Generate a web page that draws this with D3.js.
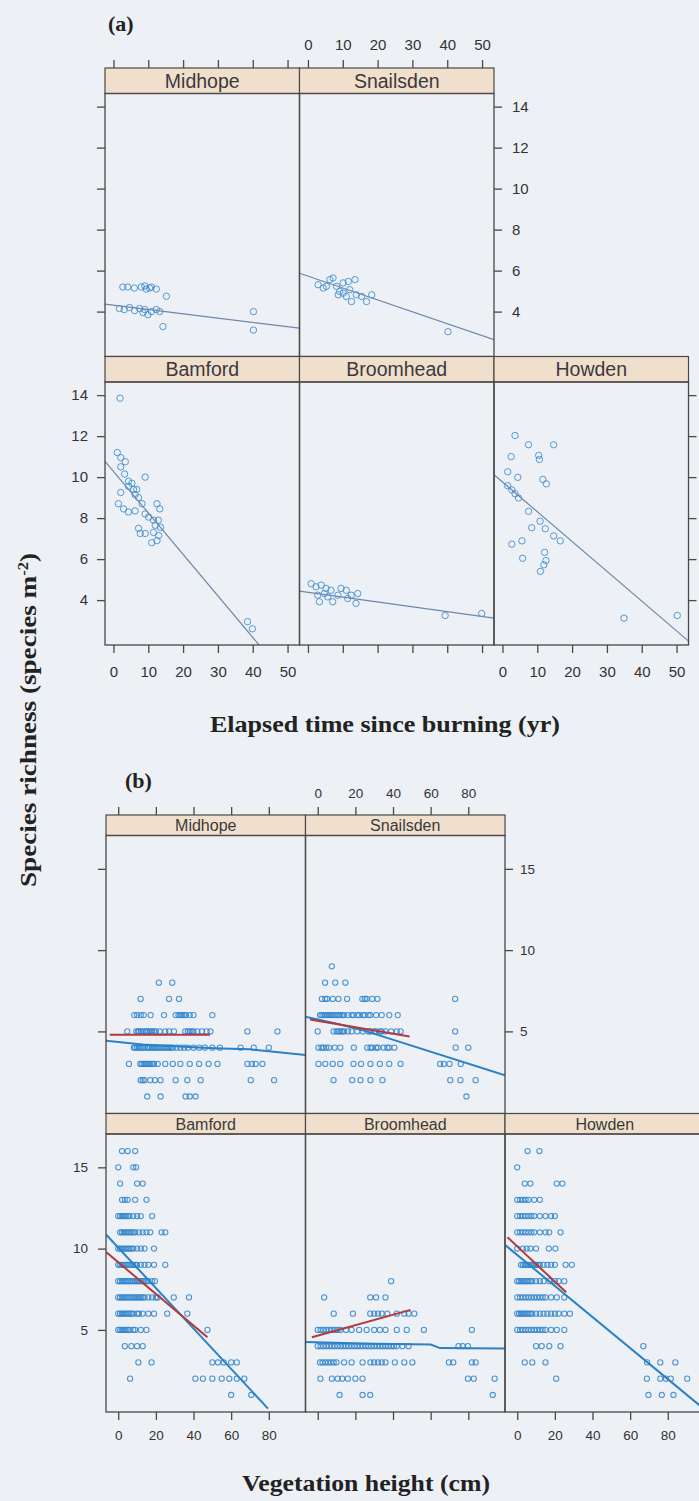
<!DOCTYPE html>
<html><head><meta charset="utf-8">
<script src="https://cdn.jsdelivr.net/npm/d3@7"></script>
<style>
body{margin:0;background:#edf0f5;}
svg{display:block}
</style>
</head><body>
<svg id="chart" width="699" height="1501"></svg>
<script>
// ---------------- DATA ----------------
const sites = ["Midhope","Snailsden","Bamford","Broomhead","Howden"];

// (a) species richness vs elapsed time since burning (yr)
const aXTicks = [0,10,20,30,40,50];
const aYTicks = [4,6,8,10,12,14];
const aXDomain = [-2.43, 53.43];
const aYDomain = [1.81, 14.64];

const aMidhope = [[2.7,5.2],[4.1,5.2],[6.0,5.15],[8.0,5.2],[9.0,5.25],[9.4,5.1],[10.4,5.15],[10.9,5.2],[12.3,5.1],[15.2,4.75],
  [1.7,4.15],[3.1,4.1],[4.6,4.2],[6.1,4.05],[7.5,4.15],[8.5,3.95],[9.0,4.1],[9.9,3.85],[10.9,4.0],[12.3,4.1],[13.3,4.0],[14.2,3.27],[40.2,4.0],[40.2,3.1]];
const aSnailsden = [[2.9,5.31],[4.4,5.15],[5.3,5.23],[6.3,5.56],[7.2,5.64],[8.2,5.23],[8.7,4.82],[9.1,4.98],[10.1,5.4],[10.1,4.9],
  [11.0,4.74],[11.6,5.47],[12.0,5.07],[12.5,4.49],[13.5,5.56],[13.9,4.82],[15.4,4.74],[16.8,4.49],[18.3,4.82],[40.2,3.02]];
const aBamford = [[1.9,13.85],[1.1,11.2],[2.1,10.95],[3.4,10.75],[2.1,10.5],[3.2,10.15],[4.3,9.8],[5.3,9.7],[9.1,10.0],[2.1,9.25],
  [4.3,9.55],[5.8,9.4],[6.2,9.15],[7.2,9.0],[6.7,9.4],[1.4,8.7],[2.9,8.45],[4.3,8.3],[6.2,8.35],[8.2,8.7],[9.1,8.2],[10.1,8.05],
  [12.5,8.7],[13.3,8.45],[11.5,7.9],[12.9,7.9],[12.0,7.65],[13.5,7.55],[7.2,7.5],[7.7,7.25],[9.1,7.25],[11.5,7.3],[13.0,7.15],
  [12.5,6.9],[11.0,6.8],[38.5,2.95],[39.9,2.6]];
const aBroomhead = [[0.9,4.8],[2.3,4.65],[3.8,4.73],[5.2,4.57],[6.6,4.48],[2.8,4.24],[4.7,4.32],[3.3,3.92],[7.1,3.92],[8.6,4.24],
  [9.5,4.57],[11.0,4.48],[12.4,4.24],[14.3,4.32],[13.8,3.84],[11.4,4.08],[5.7,4.16],[39.4,3.25],[49.9,3.35]];
const aHowden = [[3.6,12.03],[7.5,11.58],[14.7,11.58],[2.5,11.0],[10.4,11.06],[10.6,10.86],[1.5,10.26],[4.4,9.99],[11.6,9.89],
  [12.6,9.67],[1.5,9.58],[2.7,9.38],[3.6,9.19],[4.6,8.98],[7.5,8.33],[10.8,7.85],[12.3,7.48],[8.4,7.53],[14.7,7.13],[16.6,6.89],
  [2.7,6.73],[5.6,6.89],[5.8,6.04],[12.1,6.33],[12.5,5.93],[11.9,5.72],[10.9,5.4],[34.9,3.12],[50.2,3.25]];

// fitted lines (a): [x, y] end points
const aFitMidhope   = [[-2.43,4.37],[53.43,3.19]];
const aFitSnailsden = [[-2.43,5.87],[53.43,2.63]];
const aFitBamford   = [[-2.43,10.77],[41.8,1.82]];
const aFitBroomhead = [[-2.43,4.44],[53.43,3.12]];
const aFitHowden    = [[-2.43,10.12],[53.43,2.0]];

// (b) species richness vs vegetation height (cm); rows: [richness, [heights...]]
const bXTicks = [0,20,40,60,80];
const bYTicks = [5,10,15];
const bXDomain = [-6.5, 99.5];
const bYDomain = [-0.05, 17.05];

const bMidhope = [
  [8,[21.6,28.7]],
  [7,[11.9,27,32.3]],
  [6,[8.5,10,12,13.5,17.2,24.3,30.5,32,33,34,35,36,38,40,50]],
  [5,[4.8,9.6,10.5,11,12,13,14.5,15,16,17,18,19,20,22,25,27,29.6,35.6,37,38,39,40,42,44.5,47,49,68.6,84.6]],
  [4,[8.3,9,10,11,12,13,14,15.5,16,17,18,19,20,21,22,23,24,25,26,27,28,29,31,33,35,37,40,43,46,50,54,65,72,80]],
  [3,[5.7,11.7,12.5,13.5,14.5,15,16,17,18,19,21,25,29,33,38,43,48,52.7,68.6,71,73,76.6]],
  [2,[11.9,13,14,17,19.5,22.5,30.5,36.7,43.8,70.4,82.8]],
  [1,[15.4,22.5,35.8,38,41.1]]];
const bSnailsden = [
  [9,[7.5]],
  [8,[3.9,9.3,14.7]],
  [7,[2.2,4,5,8,11,15.6,23.7,25,26,29,31.7,73]],
  [6,[1.2,2,3,4,5,6,7,8,9,10,11,12,13,14,16,18,19,21,22,24,25,27,28,31,34,38,42.5]],
  [5,[0,8.4,10,11,12,13,14,16,18,21,24,27,28,30,31,33,34,36,39,42,44,73]],
  [4,[0.4,2,3,4.5,6,9,12,19.2,26.3,28,29,31,32,35,37,38,40.7,73.3,80]],
  [3,[0.4,4,8,12,19,23,28,33,38,44,65,67,70,76]],
  [2,[8.4,18.3,22.7,28,34.4,70.4,75.8,83.9]],
  [1,[79]]];
const bBamford = [
  [16,[2,5,9]],
  [15,[0,8,9.5]],
  [14,[1,10,13]],
  [13,[2,3.5,5,9,15]],
  [12,[0,1,2,3,4,5,6,8,10,12,18]],
  [11,[1,2,3,4,5,6,7,8,9,11,13,15,17,23,25]],
  [10,[0,1,2,3,4,5,6,7,8,10,12,14,19]],
  [9,[0,1,2,3,4,5,6,7,8,9,10,12,14,16,19,25]],
  [8,[0,1,2,3,4,5,6,7,8,9,10,11,12,13,14,15,16,18,19.5]],
  [7,[0,1,2,3,4,5,6,7,8,9,10,11,12,13,14,16,18,20,21,29.5,37.6]],
  [6,[0,1,2,3,4,5,6,7,8,10,11,13,16,19,26,36.7]],
  [5,[0,1,2,3,4,5,6,8,9,12,15,47.4]],
  [4,[3.5,7,10,13]],
  [3,[10.7,17.7,50,53,56,60,63]],
  [2,[6.3,41,45,50,55,59,63,67]],
  [1,[60,70.7]]];
const bBroomhead = [
  [8,[39]],
  [7,[3.4,27.9,31,36]],
  [6,[8.5,18.7,27.9,30,32,34,37,42,46,48.3,51.3]],
  [5,[0,1.5,3,4.5,6,7.5,9,10.5,12,15,18,22,26,30,33,36,42,47.3,56.4,81.9]],
  [4,[0,1.5,3,4.5,6,7.5,9,10.5,12,13.5,15,16.5,18,19.5,21,22.5,24,25.5,27,28.5,30,31.5,33,34.5,36,37.5,39,40.5,42,45,48.3,74.8,77,79.8]],
  [3,[1.2,2.5,4,5.5,7,8.5,10,14,18,23.8,28,30,32,34,36,41,46,50.3,69.7,72,81.9,83.9]],
  [2,[1.4,7.5,10.6,13,16,20,23.8,79.8,82.9,94]],
  [1,[11.6,23.8,27.9,93]]];
const bHowden = [
  [16,[5.5,11.8]],
  [15,[0]],
  [14,[4,7,21,24]],
  [13,[0,1.5,3,4.5,6,9,12]],
  [12,[0,1.5,3,4.5,6,7.5,9,12,15,18,20]],
  [11,[0,1.5,3,4.5,6,7.5,9,12,15,17,23]],
  [10,[0,3,5,7,10,16.8,20.3]],
  [9,[2,3,4,5,6,7,8,9,10,11,12,14,16,18,20,25.7,29]],
  [8,[0,1,2,3,4,5,6,7,8,10,12,14,17,20,22,25]],
  [7,[0,1.5,3,4.5,6,7.5,9,10.5,12,13.5,15,18,21,25]],
  [6,[0,1,2,3,4,5,6,7,8,10,12,14,16,18,20,22,25,28]],
  [5,[0,1.5,3,4.5,6,7.5,9,10.5,12,13.5,15,18,21,25]],
  [4,[10,13,17,23,67]],
  [3,[4,8,15,69,76,84]],
  [2,[20.7,68.9,76,79,81.6,90.3]],
  [1,[69.7,76.8,83]]];

// fitted lines (b): blue = all quadrats, red = short vegetation subset
const bBlueMidhope   = [[-6.5,4.42],[13,4.2],[45,4.0],[55,3.95],[70,3.9],[99.5,3.55]];
const bRedMidhope    = [[-4.5,4.8],[48.7,4.8]];
const bBlueSnailsden = [[-6.5,5.9],[12,5.42],[26,5.0],[99.5,2.3]];
const bRedSnailsden  = [[-4.1,5.73],[48.8,4.69]];
const bBlueBamford   = [[-6.5,10.87],[79.6,0.16]];
const bRedBamford    = [[-6.3,9.77],[47.4,4.55]];
const bBlueBroomhead = [[-6.5,4.25],[30,4.15],[60,4.1],[65,3.88],[99.5,3.85]];
const bRedBroomhead  = [[-3.1,4.55],[49.3,6.23]];
const bBlueHowden    = [[-6.5,10.23],[99.5,0.11]];
const bRedHowden     = [[-5.2,10.7],[26,7.31]];

// ---------------- DRAWING ----------------
const svg = d3.select("#chart");
const flatRows = rows => rows.flatMap(([yv, xs]) => xs.map(xv => [xv, yv]));
let clipId = 0;

function lattice(cfg) {
  const x = d3.scaleLinear().domain(cfg.xDomain).range([0, cfg.colW]);
  const y = d3.scaleLinear().domain(cfg.yDomain).range([cfg.panelH, 0]);
  const g = svg.append("g");
  const frame = "#4b4845";

  cfg.panels.forEach(p => {
    const px = cfg.left + p.col * cfg.colW;
    const sTop = cfg.top + p.row * (cfg.stripH + cfg.panelH);
    const py = sTop + cfg.stripH;

    g.append("rect").attr("x", px).attr("y", sTop).attr("width", cfg.colW).attr("height", cfg.stripH)
      .attr("fill", "#f0dfcd").attr("stroke", frame).attr("stroke-width", 1.2);
    g.append("text").attr("x", px + cfg.colW / 2).attr("y", sTop + cfg.stripH / 2)
      .attr("dy", "0.36em").attr("text-anchor", "middle")
      .attr("font-family", "'Liberation Sans', Arial, sans-serif").attr("font-size", cfg.stripFont)
      .attr("fill", "#3a3a3a").text(p.name);

    const pg = g.append("g").attr("transform", `translate(${px},${py})`);
    const id = "clip" + (clipId++);
    pg.append("clipPath").attr("id", id).append("rect").attr("width", cfg.colW).attr("height", cfg.panelH);
    const inner = pg.append("g").attr("clip-path", `url(#${id})`);

    inner.selectAll("circle").data(p.pts).join("circle")
      .attr("cx", d => x(d[0])).attr("cy", d => y(d[1])).attr("r", cfg.r)
      .attr("fill", "none").attr("stroke", cfg.ptColor).attr("stroke-width", cfg.ptW).attr("stroke-opacity", 0.85);

    const line = d3.line().x(d => x(d[0])).y(d => y(d[1]));
    p.lines.forEach(l => {
      inner.append("path").attr("d", line(l.pts)).attr("fill", "none")
        .attr("stroke", l.color).attr("stroke-width", l.width);
    });

    pg.append("rect").attr("width", cfg.colW).attr("height", cfg.panelH)
      .attr("fill", "none").attr("stroke", frame).attr("stroke-width", 1.3);

    const styleAxis = (ag, labels) => {
      ag.select(".domain").remove();
      ag.selectAll(".tick line").attr("stroke", frame).attr("stroke-width", 1.3);
      ag.selectAll("text").attr("font-family", "'Liberation Sans', Arial, sans-serif")
        .attr("font-size", cfg.tickFont).attr("fill", "#333");
      if (!labels) ag.selectAll("text").remove();
    };
    if (p.row === 0) {
      const ag = g.append("g").attr("transform", `translate(${px},${sTop})`)
        .call(d3.axisTop(x).tickValues(cfg.xTicks).tickSize(cfg.tick).tickPadding(cfg.padTop));
      styleAxis(ag, p.col % 2 === 1);
    }
    if (p.row === cfg.nRows - 1) {
      const ag = g.append("g").attr("transform", `translate(${px},${py + cfg.panelH})`)
        .call(d3.axisBottom(x).tickValues(cfg.xTicks).tickSize(cfg.tick).tickPadding(cfg.padBottom));
      styleAxis(ag, p.col % 2 === 0);
    }
    if (p.col === 0) {
      const ag = g.append("g").attr("transform", `translate(${px},${py})`)
        .call(d3.axisLeft(y).tickValues(cfg.yTicks).tickSize(cfg.tick).tickPadding(cfg.padLeft));
      styleAxis(ag, p.row === 1);
    }
    if (p.last) {
      const ag = g.append("g").attr("transform", `translate(${px + cfg.colW},${py})`)
        .call(d3.axisRight(y).tickValues(cfg.yTicks).tickSize(cfg.tick).tickPadding(cfg.padRight));
      styleAxis(ag, p.row === 0);
    }
  });
}

const aLine = "#6f88aa";
lattice({
  xDomain: aXDomain, yDomain: aYDomain, xTicks: aXTicks, yTicks: aYTicks,
  left: 105, top: 68, colW: 194.5, stripH: 25.5, panelH: 263, nRows: 2,
  stripFont: 19.5, tickFont: 15, tick: 8, padTop: 10, padBottom: 13, padLeft: 9, padRight: 10,
  r: 3.2, ptColor: "#3a8bd0", ptW: 1,
  panels: [
    {name: sites[0], col: 0, row: 0, pts: aMidhope,  lines: [{pts: aFitMidhope,  color: aLine, width: 1.2}]},
    {name: sites[1], col: 1, row: 0, last: true, pts: aSnailsden, lines: [{pts: aFitSnailsden, color: aLine, width: 1.2}]},
    {name: sites[2], col: 0, row: 1, pts: aBamford,  lines: [{pts: aFitBamford,  color: aLine, width: 1.2}]},
    {name: sites[3], col: 1, row: 1, pts: aBroomhead, lines: [{pts: aFitBroomhead, color: aLine, width: 1.2}]},
    {name: sites[4], col: 2, row: 1, last: true, pts: aHowden, lines: [{pts: aFitHowden, color: aLine, width: 1.2}]}
  ]
});

const bBlue = "#2b80c6", bRed = "#b23a3c";
lattice({
  xDomain: bXDomain, yDomain: bYDomain, xTicks: bXTicks, yTicks: bYTicks,
  left: 106, top: 815, colW: 199.5, stripH: 20.5, panelH: 278, nRows: 2,
  stripFont: 16, tickFont: 13.5, tick: 8, padTop: 9, padBottom: 10, padLeft: 10, padRight: 7,
  r: 2.6, ptColor: "#2f84cc", ptW: 1.1,
  panels: [
    {name: sites[0], col: 0, row: 0, pts: flatRows(bMidhope),
      lines: [{pts: bBlueMidhope, color: bBlue, width: 2}, {pts: bRedMidhope, color: bRed, width: 2}]},
    {name: sites[1], col: 1, row: 0, last: true, pts: flatRows(bSnailsden),
      lines: [{pts: bBlueSnailsden, color: bBlue, width: 2}, {pts: bRedSnailsden, color: bRed, width: 2}]},
    {name: sites[2], col: 0, row: 1, pts: flatRows(bBamford),
      lines: [{pts: bBlueBamford, color: bBlue, width: 2}, {pts: bRedBamford, color: bRed, width: 2}]},
    {name: sites[3], col: 1, row: 1, pts: flatRows(bBroomhead),
      lines: [{pts: bBlueBroomhead, color: bBlue, width: 2}, {pts: bRedBroomhead, color: bRed, width: 2}]},
    {name: sites[4], col: 2, row: 1, last: true, pts: flatRows(bHowden),
      lines: [{pts: bBlueHowden, color: bBlue, width: 2}, {pts: bRedHowden, color: bRed, width: 2}]}
  ]
});

// titles
const serif = "'Liberation Serif', 'Times New Roman', serif";
svg.append("text").attr("x", 108).attr("y", 31).attr("font-family", serif).attr("font-weight", "bold")
  .attr("font-size", 22).attr("fill", "#222").text("(a)");
svg.append("text").attr("x", 125).attr("y", 788).attr("font-family", serif).attr("font-weight", "bold")
  .attr("font-size", 22).attr("fill", "#222").text("(b)");
svg.append("text").attr("x", 385).attr("y", 732).attr("text-anchor", "middle").attr("font-family", serif)
  .attr("font-weight", "bold").attr("font-size", 22.5).attr("fill", "#222")
  .attr("textLength", 350).attr("lengthAdjust", "spacingAndGlyphs").text("Elapsed time since burning (yr)");
svg.append("text").attr("x", 366).attr("y", 1491).attr("text-anchor", "middle").attr("font-family", serif)
  .attr("font-weight", "bold").attr("font-size", 22.5).attr("fill", "#222")
  .attr("textLength", 248).attr("lengthAdjust", "spacingAndGlyphs").text("Vegetation height (cm)");
const yt = svg.append("text").attr("transform", "translate(36,720) rotate(-90)").attr("text-anchor", "middle")
  .attr("font-family", serif).attr("font-weight", "bold").attr("font-size", 23).attr("fill", "#222")
  .attr("textLength", 334).attr("lengthAdjust", "spacingAndGlyphs");
yt.append("tspan").text("Species richness (species m");
yt.append("tspan").attr("dy", -8).attr("font-size", 14).text("-2");
yt.append("tspan").attr("dy", 8).text(")");
</script>
</body></html>
